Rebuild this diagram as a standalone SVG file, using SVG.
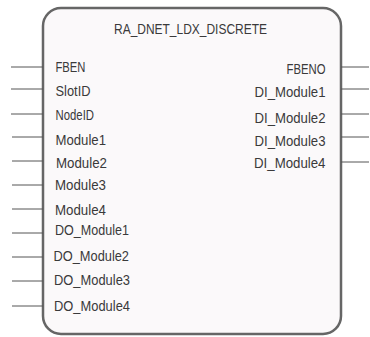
<svg xmlns="http://www.w3.org/2000/svg" width="370" height="337" viewBox="0 0 370 337">
<style>
.box{fill:#fbf9fa;stroke:#666;stroke-width:2.5}
.pin{stroke:#555;stroke-width:1;fill:none}
text{font-family:"Liberation Sans",Arial,sans-serif;font-size:15px;fill:#3a3a3a}
.r{text-anchor:end}
.t{text-anchor:middle}
</style>
<g id="block">
<rect class="box" x="43" y="8" width="298" height="326" rx="18" ry="18"/>
<text class="t" x="190.5" y="33.5" textLength="153" lengthAdjust="spacingAndGlyphs">RA_DNET_LDX_DISCRETE</text>
</g>
<g id="connectors">
<line class="pin" x1="11" y1="67" x2="43" y2="67"/>
<line class="pin" x1="11" y1="89" x2="43" y2="89"/>
<line class="pin" x1="11" y1="114" x2="43" y2="114"/>
<line class="pin" x1="12" y1="137" x2="43" y2="137"/>
<line class="pin" x1="12" y1="161" x2="43" y2="161"/>
<line class="pin" x1="12" y1="185" x2="43" y2="185"/>
<line class="pin" x1="12" y1="209" x2="43" y2="209"/>
<line class="pin" x1="12" y1="233" x2="43" y2="233"/>
<line class="pin" x1="12" y1="257" x2="43" y2="257"/>
<line class="pin" x1="12" y1="281" x2="43" y2="281"/>
<line class="pin" x1="12" y1="306" x2="43" y2="306"/>
<line class="pin" x1="341" y1="67" x2="369" y2="67"/>
<line class="pin" x1="341" y1="89" x2="369" y2="89"/>
<line class="pin" x1="341" y1="114" x2="369" y2="114"/>
<line class="pin" x1="341" y1="137" x2="369" y2="137"/>
<line class="pin" x1="341" y1="162" x2="369" y2="162"/>
</g>
<g id="inputs">
<text x="55.5" y="71.5" textLength="30" lengthAdjust="spacingAndGlyphs">FBEN</text>
<text x="55.5" y="95.5" textLength="35" lengthAdjust="spacingAndGlyphs">SlotID</text>
<text x="55.5" y="119.5" textLength="38.5" lengthAdjust="spacingAndGlyphs">NodeID</text>
<text x="55.5" y="145" textLength="50.5" lengthAdjust="spacingAndGlyphs">Module1</text>
<text x="56" y="167.5" textLength="51" lengthAdjust="spacingAndGlyphs">Module2</text>
<text x="55" y="189.5" textLength="51" lengthAdjust="spacingAndGlyphs">Module3</text>
<text x="55" y="214.5" textLength="51" lengthAdjust="spacingAndGlyphs">Module4</text>
<text x="55" y="234.5" textLength="74" lengthAdjust="spacingAndGlyphs">DO_Module1</text>
<text x="53.5" y="260.5" textLength="75.5" lengthAdjust="spacingAndGlyphs">DO_Module2</text>
<text x="54" y="285" textLength="76" lengthAdjust="spacingAndGlyphs">DO_Module3</text>
<text x="54" y="310.5" textLength="76" lengthAdjust="spacingAndGlyphs">DO_Module4</text>
</g>
<g id="outputs">
<text class="r" x="325.5" y="74" textLength="39" lengthAdjust="spacingAndGlyphs">FBENO</text>
<text class="r" x="325.5" y="97" textLength="71" lengthAdjust="spacingAndGlyphs">DI_Module1</text>
<text class="r" x="325.5" y="122.5" textLength="71" lengthAdjust="spacingAndGlyphs">DI_Module2</text>
<text class="r" x="325.5" y="146" textLength="71" lengthAdjust="spacingAndGlyphs">DI_Module3</text>
<text class="r" x="325.5" y="167.5" textLength="71.5" lengthAdjust="spacingAndGlyphs">DI_Module4</text>
</g>
</svg>
